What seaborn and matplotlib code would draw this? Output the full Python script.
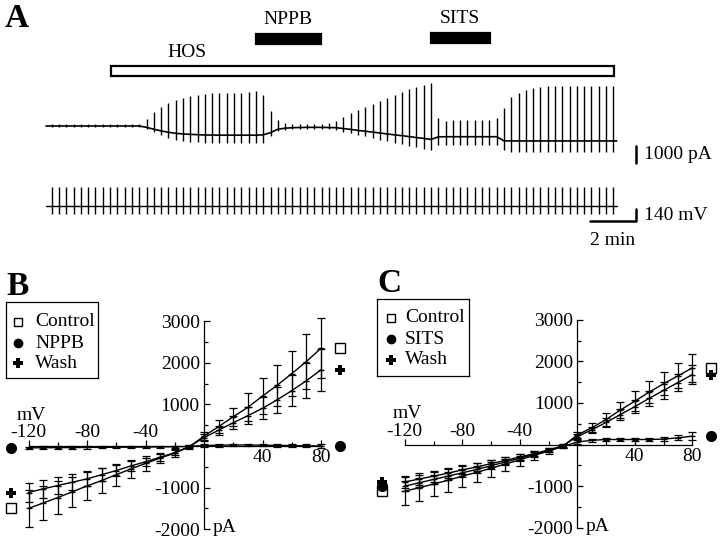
import numpy as np
import matplotlib
matplotlib.use('Agg')
import matplotlib.pyplot as plt
from matplotlib.patches import Rectangle
import seaborn as sns

# ---------------- data ----------------
# Panel A: one voltage ramp every 19 s, current read at each ramp (pA)
pulse_interval_s = 19
n_pulses = 78
pulse_t = np.arange(n_pulses) * pulse_interval_s

holding_pa = ([0] * 13
              + [-80, -190, -290, -370, -430, -470, -490, -510]
              + [-530, -530, -540, -540, -540, -540, -540, -540]
              + [-520, -390, -190, -130, -100, -90, -80, -80, -80, -90]
              + [-100, -150, -200, -260, -310, -360, -410, -470, -520, -570, -620, -680, -730, -790]
              + [-640] + [-630] * 8
              + [-870] + [-880] * 15)
peak_out_pa = ([120] * 13
               + [410, 800, 1140, 1370, 1530, 1665, 1765, 1820]
               + [1880, 1920, 1920, 1940, 1960, 1960, 2000, 2060]
               + [1820, 880, 350, 200, 130, 120, 120, 120, 120, 150]
               + [270, 510, 750, 940, 1100, 1290, 1450, 1630, 1820, 2020, 2180, 2310, 2410, 2510]
               + [450, 310, 350, 350, 350, 350, 350, 350, 450]
               + [1040, 1690, 1960, 2120, 2220, 2280] + [2350] * 10)
peak_in_pa = ([-70] * 13
              + [-190, -330, -530, -720, -820, -880, -920, -950]
              + [-980, -1000, -1000, -1000, -1010, -1010, -1010, -1020]
              + [-1000, -560, -310, -230, -190, -180, -170, -170, -170, -180]
              + [-240, -330, -420, -520, -610, -700, -800, -890, -980, -1070, -1160, -1250, -1330, -1410]
              + [-1100] + [-1120] * 8
              + [-1400] + [-1510] * 15)
ramp_top_mv = 220
ramp_bottom_mv = -90

treat_names = ['HOS', 'NPPB', 'SITS']
treat_start_s = [154, 532, 988]
treat_end_s = [1465, 701, 1141]

# Panels B and C: I-V relations (mean, SEM in pA)
volt_mv = [-120, -110, -100, -90, -80, -70, -60, -50, -40, -30, -20, -10,
           0, 10, 20, 30, 40, 50, 60, 70, 80]

ctrl_b = [-1500, -1370, -1240, -1100, -960, -830, -690, -550, -420, -290, -170, -20,
          240, 465, 705, 930, 1200, 1460, 1740, 2030, 2350]
ctrl_b_err = [440, 420, 390, 360, 330, 300, 260, 220, 180, 130, 90, 50,
              100, 160, 215, 335, 440, 490, 550, 660, 720]
nppb_b = [-45, -42, -40, -38, -35, -32, -30, -28, -25, -22, -18, -10,
          10, 20, 25, 25, 20, 15, 10, 5, 0]
nppb_b_err = [30, 30, 30, 28, 28, 26, 26, 24, 24, 22, 20, 20,
              40, 35, 30, 30, 30, 30, 30, 35, 40]
wash_b = [-1120, -1030, -950, -870, -790, -690, -590, -480, -380, -270, -160, -10,
          200, 380, 560, 730, 905, 1110, 1330, 1570, 1830]
wash_b_err = [220, 210, 200, 190, 180, 160, 140, 120, 100, 80, 60, 40,
              80, 110, 150, 200, 264, 310, 370, 420, 500]

ctrl_c = [-1120, -1040, -950, -860, -760, -670, -570, -470, -370, -260, -160, -40,
          230, 400, 600, 830, 1040, 1260, 1460, 1650, 1840]
ctrl_c_err = [330, 310, 290, 270, 250, 230, 200, 170, 140, 110, 80, 50,
              80, 110, 150, 200, 240, 260, 280, 300, 330]
sits_c = [-1000, -920, -840, -760, -680, -600, -510, -420, -330, -240, -150, -50,
          60, 100, 120, 120, 120, 120, 130, 160, 200]
sits_c_err = [120, 110, 100, 95, 90, 85, 80, 70, 60, 50, 40, 30,
              40, 40, 40, 40, 40, 40, 40, 60, 90]
wash_c = [-900, -830, -760, -690, -610, -540, -460, -380, -300, -220, -130, -30,
          190, 350, 530, 720, 910, 1110, 1300, 1490, 1680]
wash_c_err = [150, 140, 130, 120, 110, 100, 90, 80, 70, 60, 50, 40,
              60, 80, 100, 130, 160, 180, 200, 210, 220]

# ---------------- style ----------------
sns.set_style('ticks', {'axes.edgecolor': 'black', 'xtick.color': 'black',
                        'ytick.color': 'black', 'text.color': 'black'})
plt.rcParams['font.family'] = ['Liberation Serif', 'DejaVu Serif']
plt.rcParams['axes.unicode_minus'] = False
FS = 14

W, H = 720, 541
fig = plt.figure(figsize=(W / 100, H / 100), dpi=100)


def px_axes(left, top, right, bottom):
    return fig.add_axes([left / W, 1 - bottom / H, (right - left) / W, (bottom - top) / H])


# ---------------- panel A ----------------
T0_PX, PX_PER_S = 51.7, 0.3839
I0_PX, PX_PER_PA = 126, 0.017
V0_PX, MV_PER_PX = 206, 140 / 12
t_lim = ((0 - T0_PX) / PX_PER_S, (W - T0_PX) / PX_PER_S)

ax_top = px_axes(0, 0, W, 80)
ax_top.set_xlim(t_lim)
ax_top.set_ylim(80, 0)
ax_top.set_axis_off()

bar_y = {'HOS': (66, 76), 'NPPB': (33.5, 43.5), 'SITS': (32.5, 42.5)}
for name, s, e in zip(treat_names, treat_start_s, treat_end_s):
    y0, y1 = bar_y[name]
    ax_top.add_patch(Rectangle((s, y0), e - s, y1 - y0, fill=(name != 'HOS'),
                               facecolor='k', edgecolor='k', lw=1.6))
    if name == 'HOS':
        ax_top.text(s + 76 / PX_PER_S, 52.5, name, ha='center', va='center', fontsize=FS)
    else:
        ax_top.text((s + e) / 2, y0 - 14, name, ha='center', va='center', fontsize=FS)

ax_i = px_axes(0, 80, W, 178)
ax_i.set_xlim(t_lim)
ax_i.set_ylim((I0_PX - 178) / PX_PER_PA, (I0_PX - 80) / PX_PER_PA)
ax_i.set_axis_off()
t_base = [-15] + list(pulse_t) + [1472]
sns.lineplot(x=t_base, y=[holding_pa[0]] + holding_pa + [holding_pa[-1]], ax=ax_i,
             color='k', lw=1.2, estimator=None, sort=False)
ax_i.vlines(pulse_t, peak_in_pa, peak_out_pa, color='k', lw=1.0)
ax_i.plot([1521, 1521], [-1200, -2200], color='k', lw=1.8)
ax_i.annotate('1000 pA', xy=(1521, -1700), xytext=(6, 0), textcoords='offset points',
              ha='left', va='center', fontsize=FS)

ax_v = px_axes(0, 178, W, 260)
ax_v.set_xlim(t_lim)
ax_v.set_ylim((V0_PX - 260) * MV_PER_PX, (V0_PX - 178) * MV_PER_PX)
ax_v.set_axis_off()
sns.lineplot(x=[t_base[0], t_base[-1]], y=[0, 0], ax=ax_v, color='k', lw=1.0,
             estimator=None, sort=False)
ax_v.vlines(pulse_t, ramp_bottom_mv, ramp_top_mv, color='k', lw=1.0)
ax_v.plot([1401, 1521, 1521], [-180, -180, -40], color='k', lw=1.8)
ax_v.annotate('140 mV', xy=(1521, -110), xytext=(6, 0), textcoords='offset points',
              ha='left', va='center', fontsize=FS)
ax_v.annotate('2 min', xy=(1461, -180), xytext=(0, -14), textcoords='offset points',
              ha='center', va='center', fontsize=FS)


# ---------------- panels B and C ----------------
def iv_panel(vx0, kx, iy0, ky, xlim, ylim, series, x_left, x_right):
    ax = px_axes(vx0 + kx * xlim[0], iy0 - ky * ylim[1], vx0 + kx * xlim[1], iy0 - ky * ylim[0])
    ax.set_xlim(xlim)
    ax.set_ylim(ylim)
    for mean, err, mk in series:
        sns.lineplot(x=volt_mv, y=mean, ax=ax, color='k', lw=1.0, estimator=None, sort=False)
        ax.errorbar(volt_mv, mean, yerr=err, fmt='none', ecolor='k', elinewidth=0.9,
                    capsize=2.6, capthick=0.9)
        ax.plot(volt_mv, mean, ls='none', marker='_', ms=5, mew=1.0, color='k')
        for xe, ye in ((x_left, mean[0]), (x_right, mean[-1])):
            ax.plot([xe], [ye], ls='none', clip_on=False, **mk)
    for s in ('top', 'right'):
        ax.spines[s].set_visible(False)
    ax.spines['left'].set_position(('data', 0))
    ax.spines['bottom'].set_position(('data', 0))
    ax.spines['left'].set_bounds(-2000, 3000)
    ax.spines['bottom'].set_bounds(-120, 80)
    for s in ('left', 'bottom'):
        ax.spines[s].set_linewidth(0.9)
    ax.set_yticks([-2000, -1000, 0, 1000, 2000, 3000])
    ax.set_yticklabels(['-2000', '-1000', '', '1000', '2000', '3000'])
    ax.set_yticks([-1500, -500, 500, 1500, 2500], minor=True)
    ax.set_xticks([-120, -80, -40, 40, 80])
    ax.set_xticklabels([])
    ax.set_xticks([-100, -60, -20, 20, 60], minor=True)
    ax.tick_params(which='both', direction='in', width=0.9, labelsize=FS, pad=3,
                   left=True, bottom=True)
    ax.tick_params(which='major', length=4)
    ax.tick_params(which='minor', length=3)
    for v in (-120, -80, -40):
        ax.annotate(str(v), xy=(v, 0), xytext=(0, 9.5), textcoords='offset points',
                    ha='center', va='center', fontsize=FS)
    for v in (40, 80):
        ax.annotate(str(v), xy=(v, 0), xytext=(0, -8.5), textcoords='offset points',
                    ha='center', va='center', fontsize=FS)
    ax.annotate('mV', xy=(-120, 0), xytext=(2, 22), textcoords='offset points',
                ha='center', va='center', fontsize=FS)
    ax.annotate('pA', xy=(0, -2000), xytext=(6, 1), textcoords='offset points',
                ha='left', va='center', fontsize=FS)
    ax.set_xlabel('')
    ax.set_ylabel('')
    return ax


m_ctrl = dict(marker='s', ms=7, mfc='white', mec='k', mew=1.0)
m_drug = dict(marker='o', ms=7, mfc='k', mec='k')
m_wash = dict(marker='P', ms=7.5, mfc='k', mec='k', mew=0)

iv_panel(204, 1.4625, 446, 0.0416, (-139, 100), (-2250, 3200),
         [(ctrl_b, ctrl_b_err, m_ctrl), (nppb_b, nppb_b_err, m_drug), (wash_b, wash_b_err, m_wash)],
         -132, 93)
iv_panel(577.3, 1.4375, 444.5, 0.0416, (-140, 98), (-2250, 3200),
         [(ctrl_c, ctrl_c_err, m_ctrl), (sits_c, sits_c_err, m_drug), (wash_c, wash_c_err, m_wash)],
         -135.6, 93)


def legend_box(left, top, right, bottom, labels, mx, tx, ys):
    ax = px_axes(left, top, right, bottom)
    ax.set_xlim(0, right - left)
    ax.set_ylim(bottom - top, 0)
    ax.set_xticks([])
    ax.set_yticks([])
    ax.set_facecolor('white')
    for s in ax.spines.values():
        s.set_visible(True)
        s.set_linewidth(0.9)
        s.set_color('k')
    small = [dict(m_ctrl, ms=5.5), dict(m_drug, ms=6), dict(m_wash, ms=6.5)]
    for lab, mk, y in zip(labels, small, ys):
        ax.plot([mx], [y], ls='none', **mk)
        ax.text(tx, y, lab, ha='left', va='center', fontsize=FS)


legend_box(6, 302, 98, 378, ['Control', 'NPPB', 'Wash'], 12, 29, (20, 41, 61))
legend_box(376.7, 299, 469.3, 376, ['Control', 'SITS', 'Wash'], 14.5, 28.3, (18.7, 40, 61))

for lab, x, y in (('A', 5, 27), ('B', 6, 295), ('C', 377, 292)):
    fig.text(x / W, 1 - y / H, lab, fontsize=24, fontweight='bold', va='baseline', ha='left')

fig.savefig('out.png', dpi=100)
